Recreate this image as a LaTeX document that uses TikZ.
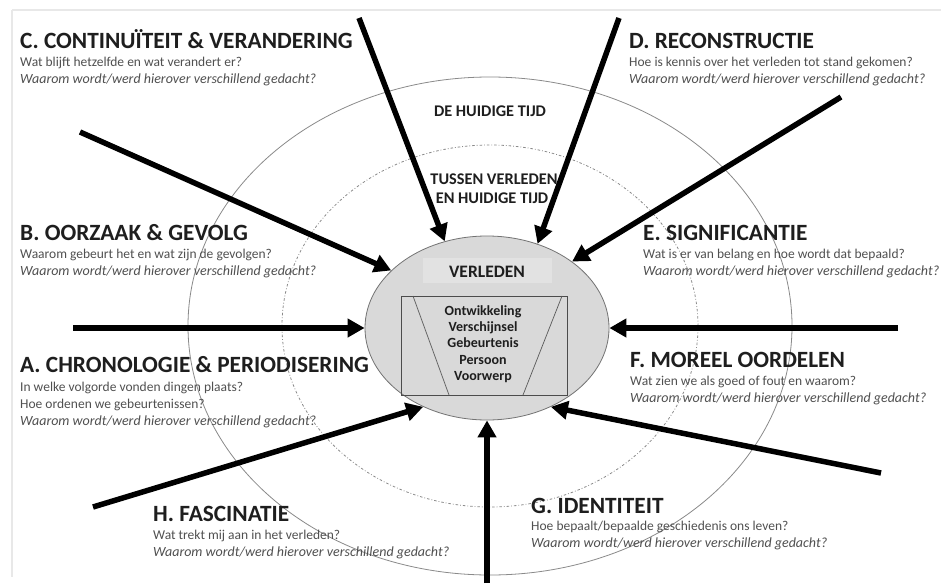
\documentclass[tikz,border=0pt]{standalone}
\usepackage{fontspec}
\setmainfont{Carlito}
\usetikzlibrary{shapes.geometric,arrows.meta}
\definecolor{headc}{HTML}{1E1E1E}
\definecolor{subc}{HTML}{505050}
\definecolor{ringc}{HTML}{8A8A8A}
\definecolor{pastfill}{HTML}{D9D9D9}
\definecolor{boxfill}{HTML}{E2E2E2}
\begin{document}
\begin{tikzpicture}[x=1pt,y=-1pt,
  head/.style={anchor=base west, inner sep=0, font=\fontsize{23.3}{25}\selectfont\bfseries, text=headc},
  sub/.style={anchor=base west, inner sep=0, font=\fontsize{13.5}{15}\selectfont, text=subc},
  subi/.style={anchor=base west, inner sep=0, font=\fontsize{14}{15}\selectfont\itshape, text=subc},
  zone/.style={anchor=base, inner sep=0, font=\fontsize{16.3}{18}\selectfont\bfseries, text=headc},
  item/.style={anchor=base, inner sep=0, font=\fontsize{14}{16}\selectfont\bfseries, text=headc},
  arr/.style={line width=5.5pt, -{Triangle[length=17pt,width=18pt]}},
]
\useasboundingbox (0,0) rectangle (952,583);
\fill[white] (0,0) rectangle (952,583);
\draw[black!9, line width=1.5pt] (12,10) -- (941,10);
\draw[black!9, line width=1.5pt] (12,10) -- (12,577);

% rings
\coordinate (ctr) at (490,326);
\draw[ringc, line width=0.8pt] (ctr) ellipse [x radius=302pt, y radius=249pt];
\draw[ringc, line width=0.8pt, dash pattern=on 2.5pt off 2pt on 0.8pt off 2pt] (ctr) ellipse [x radius=208pt, y radius=181pt];

% centre
\node[ellipse, draw=black!55, line width=0.8pt, fill=pastfill, minimum width=244pt, minimum height=184pt, inner sep=0] (past) at (487,328) {};
\node[draw=white!85!black, fill=boxfill, minimum width=130pt, minimum height=26pt, inner sep=0] (vbox) at (487,270) {};
\node[anchor=base, inner sep=0, font=\fontsize{17.5}{19}\selectfont\bfseries, text=headc] (vtext) at (487,277) {VERLEDEN};
\node[draw=black!70, line width=1pt, minimum width=166pt, minimum height=99pt, inner sep=0] (inner) at (484,345.5) {};
\draw[black!65, line width=0.7pt] (413,296) -- (449,395);
\draw[black!65, line width=0.7pt] (562,296) -- (523,395);
\node[item] (i1) at (483,315) {Ontwikkeling};
\node[item] (i2) at (483,331) {Verschijnsel};
\node[item] (i3) at (483,347.5) {Gebeurtenis};
\node[item] (i4) at (483,364) {Persoon};
\node[item] (i5) at (483,380) {Voorwerp};

% zone labels
\node[zone] (z1) at (490,117) {DE HUIDIGE TIJD};
\node[zone] (z2) at (494,184) {TUSSEN VERLEDEN};
\node[zone] (z3) at (492,203) {EN HUIDIGE TIJD};

% C
\node[head] (hC) at (20,49) {C. CONTINUÏTEIT \& VERANDERING};
\node[sub]  (sC1) at (20,67) {Wat blijft hetzelfde en wat verandert er?};
\node[subi] (sC2) at (20,84) {Waarom wordt/werd hierover verschillend gedacht?};
% D
\node[head] (hD) at (629,49) {D. RECONSTRUCTIE};
\node[sub]  (sD1) at (629,67) {Hoe is kennis over het verleden tot stand gekomen?};
\node[subi] (sD2) at (629,84) {Waarom wordt/werd hierover verschillend gedacht?};
% B
\node[head] (hB) at (20,240) {B. OORZAAK \& GEVOLG};
\node[sub]  (sB1) at (20,258) {Waarom gebeurt het en wat zijn de gevolgen?};
\node[subi] (sB2) at (20,275) {Waarom wordt/werd hierover verschillend gedacht?};
% E
\node[head] (hE) at (643,240) {E. SIGNIFICANTIE};
\node[sub]  (sE1) at (643,258) {Wat is er van belang en hoe wordt dat bepaald?};
\node[subi] (sE2) at (643,275) {Waarom wordt/werd hierover verschillend gedacht?};
% A
\node[head] (hA) at (20,372) {A. CHRONOLOGIE \& PERIODISERING};
\node[sub]  (sA1) at (20,391) {In welke volgorde vonden dingen plaats?};
\node[sub]  (sA2) at (20,408) {Hoe ordenen we gebeurtenissen?};
\node[subi] (sA3) at (20,425) {Waarom wordt/werd hierover verschillend gedacht?};
% F
\node[head] (hF) at (630,367) {F. MOREEL OORDELEN};
\node[sub]  (sF1) at (630,385) {Wat zien we als goed of fout en waarom?};
\node[subi] (sF2) at (630,402) {Waarom wordt/werd hierover verschillend gedacht?};
% H
\node[head] (hH) at (153,521) {H. FASCINATIE};
\node[sub]  (sH1) at (153,539) {Wat trekt mij aan in het verleden?};
\node[subi] (sH2) at (153,556) {Waarom wordt/werd hierover verschillend gedacht?};
% G
\node[head] (hG) at (531,513) {G. IDENTITEIT};
\node[sub]  (sG1) at (531,530) {Hoe bepaalt/bepaalde geschiedenis ons leven?};
\node[subi] (sG2) at (531,547) {Waarom wordt/werd hierover verschillend gedacht?};

% arrows
\coordinate (aC) at (359,18);
\coordinate (aD) at (619,18);
\coordinate (aB) at (80,132);
\coordinate (aE) at (841,97);
\coordinate (aA) at (73,328);
\coordinate (aF) at (898,328);
\coordinate (aH) at (93,507);
\coordinate (aG) at (881,473);
\coordinate (aBot) at (487,583);
\draw[arr] (aC) -- (past.116);
\draw[arr] (aD) -- (past.59);
\draw[arr] (aB) -- (past.149);
\draw[arr] (aE) -- (past.38);
\draw[arr] (aA) -- (past.180);
\draw[arr] (aF) -- (past.0);
\draw[arr] (aH) -- (past.231);
\draw[arr] (aG) -- (past.309);
\draw[arr] (aBot) -- (past.270);
\end{tikzpicture}
\end{document}
